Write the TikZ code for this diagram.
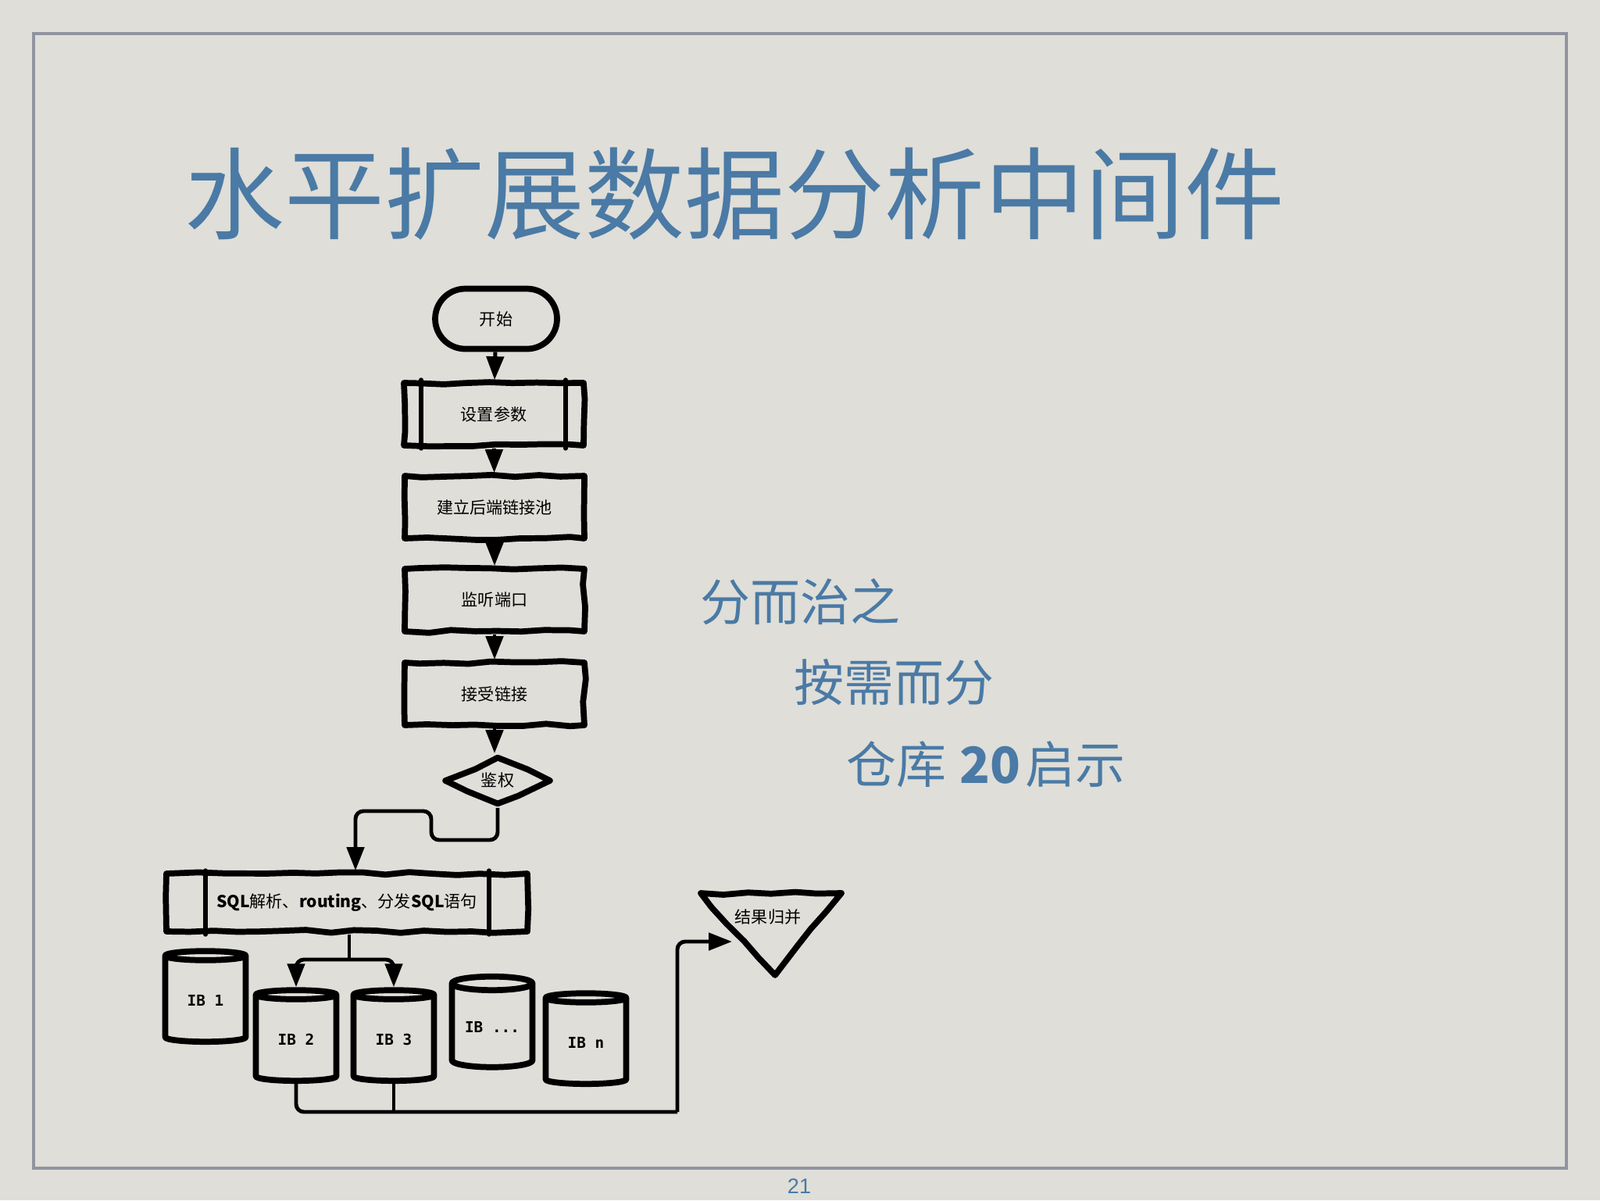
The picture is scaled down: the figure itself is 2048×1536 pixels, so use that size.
\documentclass[tikz,border=0pt]{standalone}
\usepackage{fontspec}
\setmainfont{Noto Sans CJK SC}
\newfontfamily\ibfont{DejaVu Sans Mono}
\newfontfamily\pagefont{Liberation Sans}
\usetikzlibrary{arrows.meta,shapes.geometric,shapes.misc,decorations.pathmorphing}
\definecolor{slide}{RGB}{223,222,216}
\definecolor{titleblue}{RGB}{74,122,165}
\definecolor{framegrey}{RGB}{145,148,160}
\tikzset{
  thickline/.style={draw, line width=2.2pt, line join=round, line cap=round},
  sketch/.style={thickline, decorate, decoration={random steps, segment length=3mm, amplitude=.2mm}},
  flowtext/.style={font=\fontsize{6}{7}\selectfont, inner sep=0pt},
  terminal/.style={thickline, rounded rectangle, minimum width=15.6mm, minimum height=7.7mm, flowtext},
  process/.style={sketch, rectangle, minimum width=23mm, minimum height=8mm, flowtext},
  decision/.style={sketch, diamond, aspect=2.2, minimum width=13.7mm, minimum height=6.2mm, flowtext},
  database/.style={thickline, cylinder, shape border rotate=90, aspect=.25, minimum width=10.3mm,
    minimum height=11.6mm, inner sep=0pt, font=\ibfont\bfseries\fontsize{5.5}{6}\selectfont},
  sideline/.style={line width=1.6pt, line cap=round},
  conn/.style={line width=1.4pt, rounded corners=1mm},
  tip/.style={-{Triangle[width=2.2mm,length=3mm]}},
  bigtext/.style={anchor=west, inner sep=0pt, text=titleblue, font=\fontsize{18.2}{21}\selectfont},
}
\begin{document}
\begin{tikzpicture}[x=.1mm,y=-.1mm]
% Slide background and frame
\useasboundingbox (0,0) rectangle (2048,1536);
\fill[slide] (0,0) rectangle (2048,1536);
\draw[framegrey, line width=1.1pt] (43,43) rectangle (2005,1495);
\node[anchor=west, inner sep=0pt, text=titleblue, font=\fontsize{36.4}{40}\selectfont] (title) at (236,248) {水平扩展数据分析中间件};
\node[font=\pagefont\fontsize{7.7}{8}\selectfont, text=titleblue, inner sep=0pt] (page) at (1023,1518) {21};
% Right side notes
\node[bigtext] (divide) at (896,770) {分而治之};
\node[bigtext] (demand) at (1016,873) {按需而分};
\node[bigtext] (store) at (1083,978) {仓库\hspace{1.7mm}{\bfseries 20}\hspace{.6mm}启示};
% Main flow
\node[terminal] (start) at (635,408) {开始};
\node[process] (param) at (632,530) {设置参数};
\draw[sideline] ([xshift=2.6mm]param.north west) -- ([xshift=2.6mm]param.south west);
\draw[sideline] ([xshift=-2.7mm]param.north east) -- ([xshift=-2.7mm]param.south east);
\node[process] (pool) at (633,649) {建立后端链接池};
\node[process] (listen) at (633,768) {监听端口};
\node[process] (accept) at (633,888) {接受链接};
\node[decision] (auth) at (637,999) {鉴权};
\draw[conn,tip] (start) -- (param);
\draw[conn,tip] (param) -- (pool);
\draw[conn,tip] (pool) -- (listen);
\draw[conn,tip] (listen) -- (accept);
\draw[conn,tip] (accept.south) -- (accept.south |- auth.north);
% SQL dispatch
\node[process, minimum width=46.2mm, minimum height=7.4mm] (sql) at (444,1155)
  {{\bfseries SQL}解析、{\bfseries routing}、分发{\bfseries SQL}语句};
\draw[sideline] ([xshift=5.4mm]sql.north west) -- ([xshift=5.4mm]sql.south west);
\draw[sideline] ([xshift=-5.3mm]sql.north east) -- ([xshift=-5.3mm]sql.south east);
\coordinate (detour) at (455,1038);
\draw[conn,tip] (auth.south) |- (552,1075) |- (detour) -- (detour |- sql.north);
% Backend databases
\node[database] (db1) at (263,1280) {IB 1};
\node[database] (db2) at (379,1330) {IB 2};
\node[database] (db3) at (504,1330) {IB 3};
\node[database] (dbx) at (630,1314) {IB ...};
\node[database] (dbn) at (750,1334) {IB n};
\coordinate (split) at (447,1228);
\draw[conn] (sql.south -| split) -- (split);
\draw[conn,tip] (split) -| (db2.north);
\draw[conn,tip] (split) -| (db3.north);
% Merge results
\node[flowtext] (merge) at (983,1173) {结果归并};
\draw[sketch] (897,1143) -- (1077,1143) -- (992,1248) -- cycle;
\coordinate (collect) at (867,1423);
\coordinate (mergein) at (937,1205);
\draw[conn] (db2.south) |- (collect);
\draw[conn] (db3.south) -- (db3.south |- collect);
\draw[conn,tip] (collect) |- (mergein);
\end{tikzpicture}
\end{document}
